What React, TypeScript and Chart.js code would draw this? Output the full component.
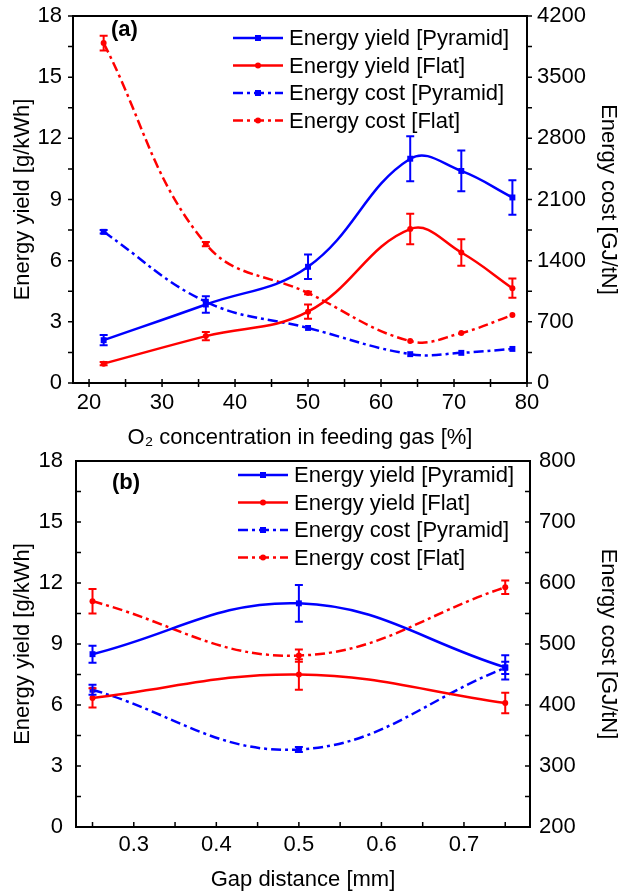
import React, { useEffect, useRef } from 'react';
import { Chart, registerables } from 'chart.js';
Chart.register(...registerables);

const FONT = '"Liberation Sans", Arial, Helvetica, sans-serif';
const BLUE = '#0000ff';
const RED = '#ff0000';
const DASHDOT = [10, 4, 3, 4];

// ---------- Panel (a): O2 concentration ----------
const o2Levels = [22, 36, 50, 64, 71, 78];
const yieldPyramidA = [2.1, 3.85, 5.7, 11.0, 10.4, 9.1];
const yieldPyramidAErr = [0.25, 0.4, 0.6, 1.1, 1.0, 0.85];
const yieldFlatA = [0.95, 2.3, 3.5, 7.55, 6.4, 4.65];
const yieldFlatAErr = [0.08, 0.2, 0.35, 0.75, 0.65, 0.47];
const costPyramidA = [1730, 930, 630, 330, 345, 390];
const costPyramidAErr = [20, 0, 0, 0, 0, 0];
const costFlatA = [3890, 1590, 1030, 480, 572, 777];
const costFlatAErr = [85, 25, 15, 0, 0, 0];
const xTicksA = [20, 25, 30, 35, 40, 45, 50, 55, 60, 65, 70, 75, 80];

// ---------- Panel (b): gap distance ----------
const gapLevels = [0.25, 0.5, 0.75];
const yieldPyramidB = [8.5, 11.0, 7.85];
const yieldPyramidBErr = [0.42, 0.9, 0.6];
const yieldFlatB = [6.35, 7.5, 6.1];
const yieldFlatBErr = [0.47, 0.75, 0.5];
const costPyramidB = [425, 327, 461];
const costPyramidBErr = [8, 4, 10];
const costFlatB = [570, 481, 593];
const costFlatBErr = [20, 10, 11];
const xTicksB = [0.25, 0.3, 0.35, 0.4, 0.45, 0.5, 0.55, 0.6, 0.65, 0.7, 0.75];

const legendLabels = [
  'Energy yield [Pyramid]',
  'Energy yield [Flat]',
  'Energy cost [Pyramid]',
  'Energy cost [Flat]',
];

const pts = (xs: number[], ys: number[]) => xs.map((x, i) => ({ x, y: ys[i] }));

const errorBarPlugin = {
  id: 'errBars',
  afterDatasetsDraw(chart: any) {
    const ctx = chart.ctx;
    chart.data.datasets.forEach((ds: any) => {
      const errs = ds.errors;
      if (!errs) return;
      const xs = chart.scales.x;
      const ys = chart.scales[ds.yAxisID];
      ctx.save();
      ctx.strokeStyle = ds.borderColor;
      ctx.lineWidth = 2;
      ctx.setLineDash([]);
      ds.data.forEach((p: any, j: number) => {
        const e = errs[j];
        if (!e) return;
        const x = xs.getPixelForValue(p.x);
        const y1 = ys.getPixelForValue(p.y - e);
        const y2 = ys.getPixelForValue(p.y + e);
        ctx.beginPath();
        ctx.moveTo(x, y1);
        ctx.lineTo(x, y2);
        ctx.moveTo(x - 4, y1);
        ctx.lineTo(x + 4, y1);
        ctx.moveTo(x - 4, y2);
        ctx.lineTo(x + 4, y2);
        ctx.stroke();
      });
      ctx.restore();
    });
  },
};

const decorPlugin = {
  id: 'decor',
  afterDraw(chart: any, _args: any, opts: any) {
    const ctx = chart.ctx;
    const a = chart.chartArea;
    ctx.save();
    // frame
    ctx.strokeStyle = '#000';
    ctx.lineWidth = 2;
    ctx.setLineDash([]);
    ctx.strokeRect(a.left, a.top, a.right - a.left, a.bottom - a.top);
    // tick marks
    ctx.lineWidth = 1.5;
    const td = opts.tickDir;
    ctx.beginPath();
    chart.scales.x.ticks.forEach((t: any) => {
      const x = chart.scales.x.getPixelForValue(t.value);
      ctx.moveTo(x, a.bottom - td.x[0]);
      ctx.lineTo(x, a.bottom + td.x[1]);
    });
    chart.scales.y.ticks.forEach((t: any) => {
      const y = chart.scales.y.getPixelForValue(t.value);
      ctx.moveTo(a.left + td.y[0], y);
      ctx.lineTo(a.left - td.y[1], y);
    });
    chart.scales.y1.ticks.forEach((t: any) => {
      const y = chart.scales.y1.getPixelForValue(t.value);
      ctx.moveTo(a.right - td.y1[0], y);
      ctx.lineTo(a.right + td.y1[1], y);
    });
    ctx.stroke();
    // panel label
    ctx.fillStyle = '#000';
    ctx.font = `bold 22px ${FONT}`;
    ctx.textBaseline = 'middle';
    ctx.textAlign = 'left';
    ctx.fillText(opts.panel, a.left + opts.panelDx, a.top + opts.panelDy);
    // legend
    chart.data.datasets.forEach((ds: any, i: number) => {
      const y = a.top + opts.legTop + i * 27.5;
      const x0 = a.left + opts.legLeft;
      ctx.strokeStyle = ds.borderColor;
      ctx.lineWidth = 2.5;
      ctx.setLineDash(ds.borderDash || []);
      ctx.beginPath();
      ctx.moveTo(x0, y);
      ctx.lineTo(x0 + 50, y);
      ctx.stroke();
      ctx.setLineDash([]);
      ctx.fillStyle = ds.borderColor;
      ctx.beginPath();
      if (ds.pointStyle === 'rect') ctx.rect(x0 + 25 - 3, y - 3, 6, 6);
      else ctx.arc(x0 + 25, y, 3, 0, Math.PI * 2);
      ctx.fill();
      ctx.fillStyle = '#000';
      ctx.font = `22px ${FONT}`;
      ctx.textAlign = 'left';
      ctx.fillText(legendLabels[i], x0 + 56, y + 1);
    });
    ctx.restore();
  },
};

function ds(label: string, xs: number[], ys: number[], errs: number[], color: string, dashed: boolean, square: boolean, axis: string) {
  return {
    label,
    data: pts(xs, ys),
    errors: errs,
    borderColor: color,
    backgroundColor: color,
    borderWidth: 2.5,
    borderDash: dashed ? DASHDOT : [],
    pointStyle: square ? 'rect' : 'circle',
    pointRadius: square ? 4.2 : 3,
    pointBorderWidth: 0,
    tension: 0.4,
    yAxisID: axis,
    clip: false,
  };
}

interface PanelSpec {
  xs: number[];
  ys: number[][];
  errs: number[][];
  xMin: number;
  xMax: number;
  xTicks: number[];
  xMajor: (v: number) => boolean;
  xTitle: string;
  y1Min: number;
  y1Max: number;
  y1Step: number;
  y1Major: number;
  canvasH: number;
  leftW: number;
  rightW: number;
  xH: number;
  top: number;
  xTickPad: number;
  xTitlePad: number;
  yTickPad: number;
  y1TickPad: number;
  panel: string;
  panelDx: number;
  panelDy: number;
  legTop: number;
  legLeft: number;
  tickDir: { x: number[]; y: number[]; y1: number[] };
}

const zeroPad = (s: any) => {
  s.paddingTop = 0;
  s.paddingBottom = 0;
  s.paddingLeft = 0;
  s.paddingRight = 0;
};

function buildConfig(p: PanelSpec): any {
  const tickFont = { family: FONT, size: 22 };
  const titleFont = { family: FONT, size: 22, lineHeight: 1 };
  const grid = { display: false, drawTicks: false };
  const border = { display: true, color: '#000', width: 2 };
  return {
    type: 'line',
    data: {
      datasets: [
        ds(legendLabels[0], p.xs, p.ys[0], p.errs[0], BLUE, false, true, 'y'),
        ds(legendLabels[1], p.xs, p.ys[1], p.errs[1], RED, false, false, 'y'),
        ds(legendLabels[2], p.xs, p.ys[2], p.errs[2], BLUE, true, true, 'y1'),
        ds(legendLabels[3], p.xs, p.ys[3], p.errs[3], RED, true, false, 'y1'),
      ],
    },
    options: {
      animation: false,
      responsive: false,
      maintainAspectRatio: false,
      layout: { padding: { top: p.top, left: 0, right: 0, bottom: 0 } },
      plugins: {
        legend: { display: false },
        tooltip: { enabled: false },
        decor: { panel: p.panel, panelDx: p.panelDx, panelDy: p.panelDy, legTop: p.legTop, legLeft: p.legLeft, tickDir: p.tickDir },
      },
      scales: {
        x: {
          type: 'linear',
          min: p.xMin,
          max: p.xMax,
          afterBuildTicks: (s: any) => {
            s.ticks = p.xTicks.map((v) => ({ value: v }));
          },
          afterFit: (s: any) => {
            s.height = p.xH;
            zeroPad(s);
          },
          ticks: {
            autoSkip: false,
            maxRotation: 0,
            color: '#000',
            font: tickFont,
            padding: p.xTickPad,
            callback: (v: number) => (p.xMajor(v) ? String(Math.round(v * 10) / 10) : ''),
          },
          grid,
          border,
          title: { display: true, text: p.xTitle, color: '#000', font: titleFont, padding: { top: 0, bottom: p.xTitlePad } },
        },
        y: {
          position: 'left',
          min: 0,
          max: 18,
          afterBuildTicks: (s: any) => {
            const t = [];
            for (let v = 0; v <= 18 + 1e-9; v += 1.5) t.push({ value: v });
            s.ticks = t;
          },
          afterFit: (s: any) => {
            s.width = p.leftW;
            zeroPad(s);
          },
          ticks: {
            color: '#000',
            font: tickFont,
            padding: p.yTickPad,
            callback: (v: number) => (Math.abs(v / 3 - Math.round(v / 3)) < 1e-6 ? String(v) : ''),
          },
          grid,
          border,
          title: { display: true, text: 'Energy yield [g/kWh]', color: '#000', font: titleFont, padding: { top: 12, bottom: 0 } },
        },
        y1: {
          position: 'right',
          min: p.y1Min,
          max: p.y1Max,
          afterBuildTicks: (s: any) => {
            const t = [];
            for (let v = p.y1Min; v <= p.y1Max + 1e-9; v += p.y1Step) t.push({ value: v });
            s.ticks = t;
          },
          afterFit: (s: any) => {
            s.width = p.rightW;
            zeroPad(s);
          },
          ticks: {
            color: '#000',
            font: tickFont,
            padding: p.y1TickPad,
            callback: (v: number) => (Math.abs((v - p.y1Min) / p.y1Major - Math.round((v - p.y1Min) / p.y1Major)) < 1e-6 ? String(v) : ''),
          },
          grid,
          border,
          title: { display: true, text: 'Energy cost [GJ/tN]', color: '#000', font: titleFont, padding: { top: 4, bottom: 0 } },
        },
      },
    },
    plugins: [errorBarPlugin, decorPlugin],
  };
}

const specA: PanelSpec = {
  xs: o2Levels,
  ys: [yieldPyramidA, yieldFlatA, costPyramidA, costFlatA],
  errs: [yieldPyramidAErr, yieldFlatAErr, costPyramidAErr, costFlatAErr],
  xMin: 17.8,
  xMax: 80,
  xTicks: xTicksA,
  xMajor: (v) => v % 10 === 0,
  xTitle: 'O\u2082 concentration in feeding gas [%]',
  y1Min: 0,
  y1Max: 4200,
  y1Step: 350,
  y1Major: 700,
  canvasH: 462,
  leftW: 73,
  rightW: 96,
  xH: 79,
  top: 16,
  xTickPad: 7,
  xTitlePad: 13,
  yTickPad: 11,
  y1TickPad: 10,
  panel: '(a)',
  panelDx: 38,
  panelDy: 14,
  legTop: 22,
  legLeft: 160,
  tickDir: { x: [4, 4], y: [0, 5], y1: [0, 5] },
};

const specB: PanelSpec = {
  xs: gapLevels,
  ys: [yieldPyramidB, yieldFlatB, costPyramidB, costFlatB],
  errs: [yieldPyramidBErr, yieldFlatBErr, costPyramidBErr, costFlatBErr],
  xMin: 0.23,
  xMax: 0.78,
  xTicks: xTicksB,
  xMajor: (v) => Math.abs(v * 10 - Math.round(v * 10)) < 1e-6,
  xTitle: 'Gap distance [mm]',
  y1Min: 200,
  y1Max: 800,
  y1Step: 50,
  y1Major: 100,
  canvasH: 447,
  leftW: 76,
  rightW: 93,
  xH: 67,
  top: 14,
  xTickPad: 5,
  xTitlePad: 3,
  yTickPad: 13,
  y1TickPad: 9,
  panel: '(b)',
  panelDx: 36,
  panelDy: 22,
  legTop: 14,
  legLeft: 162,
  tickDir: { x: [5, 0], y: [5, 0], y1: [5, 0] },
};

function Panel({ spec, top }: { spec: PanelSpec; top: number }) {
  const ref = useRef<HTMLCanvasElement>(null);
  useEffect(() => {
    if (!ref.current) return;
    const chart = new Chart(ref.current, buildConfig(spec));
    return () => chart.destroy();
  }, [spec]);
  return (
    <canvas
      ref={ref}
      width={623}
      height={spec.canvasH}
      style={{ position: 'absolute', left: 0, top, width: 623, height: spec.canvasH, display: 'block' }}
    />
  );
}

export default function App() {
  return (
    <div style={{ position: 'absolute', left: 0, top: 0, width: 623, height: 894, background: '#fff' }}>
      <Panel spec={specB} top={447} />
      <Panel spec={specA} top={0} />
    </div>
  );
}
